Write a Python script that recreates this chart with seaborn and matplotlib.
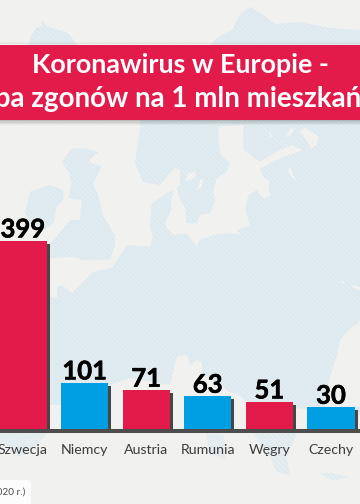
import numpy as np
import matplotlib
matplotlib.use("Agg")
import matplotlib.pyplot as plt
import matplotlib.patheffects as pe
from matplotlib.collections import LineCollection
from matplotlib.patches import Polygon, Rectangle, FancyBboxPatch
import seaborn as sns

# ---- data ----
categories = ["Szwecja", "Niemcy", "Austria", "Rumunia", "Węgry", "Czechy"]
deaths_per_million = [399, 101, 71, 63, 51, 30]
bar_colors = ["#e31b4b", "#009fe3", "#e31b4b", "#009fe3", "#e31b4b", "#009fe3"]
title_lines = ["Koronawirus w Europie -", "Liczba zgonów na 1 mln mieszkańców"]
source_text = "(2020 r.)"

# The source chart's bars are not proportional to their labels: this is its value axis.
axis_values = [0, 30, 51, 63, 71, 101, 399]
axis_heights = [0, 21.7, 27, 32.7, 38.7, 46, 188]

W, H = 360, 504
BASE_Y, TOP_Y = 429, 241
SLOT = 61.6
FIRST = 23
sns.set_theme(style="white")
plt.rcParams["font.family"] = ["Lato", "DejaVu Sans"]
fig = plt.figure(figsize=(W / 100, H / 100), dpi=100)

# ---- background map (decoration, pixel coordinates) ----
bg = fig.add_axes([0, 0, 1, 1], zorder=0)
bg.set_xlim(0, W); bg.set_ylim(H, 0); bg.axis("off")
SEA, LAND = "#f0f0ee", "#dde9ee"
bg.add_patch(Rectangle((0, 0), W, H, fc=SEA, ec="none"))

def zoom(x0, y0, pts):
    return [(x0 + x / 3, y0 + y / 3) for x, y in pts]

def poly(pts, color, **kw):
    bg.add_patch(Polygon(pts, closed=True, fc=color, ec="none", **kw))

# northern land above the banner
poly([(28, 46), (31, 36), (36, 28), (41, 27), (42, 20), (47, 26), (58, 30), (68, 33), (78, 46)], LAND)
poly([(210, 46), (217, 38), (232, 30), (240, 14), (250, 7), (262, 14), (275, 24), (300, 22), (330, 28), (360, 30), (360, 46)], LAND)
# main land mass
poly([(130, 120), (360, 120), (360, 432), (0, 432), (0, 300), (48, 240)], LAND)
# Atlantic and North Sea
poly([(0, 120), (140, 120), (140, 128), (135, 163), (143, 182), (160, 185), (175, 167), (180, 170), (180, 185),
      (170, 192), (152, 203), (150, 227), (153, 237), (150, 247), (127, 245), (124, 250), (118, 258), (112, 268),
      (93, 272), (83, 282), (72, 293), (62, 285), (57, 287), (57, 298), (48, 297), (0, 297)], SEA)
# Baltic
poly(zoom(180, 120, [(115, 20), (190, 15), (190, 90), (225, 115), (240, 125), (290, 95), (335, 75), (370, 92), (345, 98),
                     (300, 115), (240, 145), (250, 170), (270, 185), (265, 205), (272, 225), (255, 235), (240, 225),
                     (232, 210), (205, 225), (195, 270), (205, 300), (210, 318), (170, 330), (185, 345), (150, 340),
                     (100, 345), (60, 360), (50, 378), (40, 365), (20, 340), (-20, 345), (-40, 325), (-50, 290),
                     (-30, 250), (-20, 215), (-30, 190), (-10, 205), (0, 240), (15, 260), (20, 310), (50, 310),
                     (60, 285), (90, 280), (105, 240), (100, 210), (110, 175), (140, 155), (150, 130), (120, 100), (115, 60)]), SEA)
poly(zoom(180, 120, [(15, 185), (25, 160), (45, 155), (48, 170), (30, 180)]), SEA)
poly(zoom(180, 120, [(50, 212), (60, 180), (70, 175), (65, 200)]), SEA)
poly(zoom(180, 120, [(323, 150), (332, 142), (338, 160), (350, 185), (335, 172)]), SEA)
poly(zoom(180, 120, [(358, 35), (375, 22), (415, 50), (410, 75), (395, 85), (375, 55)]), SEA)
poly(zoom(180, 120, [(315, 50), (330, 25), (345, 25), (330, 50)]), SEA)
poly(zoom(180, 120, [(268, 50), (270, 30), (278, 55)]), SEA)
# British Isles
poly(zoom(0, 120, [(190, 120), (215, 85), (250, 85), (295, 95), (265, 125), (305, 140), (280, 190), (295, 230), (310, 290),
                   (345, 345), (345, 375), (330, 418), (250, 420), (215, 410), (150, 415), (144, 375), (170, 350),
                   (210, 300), (240, 300), (245, 240), (205, 235), (215, 190), (205, 155), (185, 125)]), LAND)
poly(zoom(0, 120, [(75, 280), (90, 215), (150, 195), (190, 210), (190, 240), (170, 260), (160, 310), (130, 330), (100, 325)]), LAND)
# Denmark
poly(zoom(0, 120, [(455, 250), (510, 215), (515, 265), (490, 320), (520, 345), (470, 360), (450, 320)]), LAND)
# Mediterranean
poly([(0, 432), (48, 405), (63, 405), (110, 385), (130, 378), (170, 385), (177, 356), (187, 355), (190, 365),
      (197, 360), (202, 363), (202, 373), (226, 390), (240, 396), (248, 403), (360, 415), (360, 504), (0, 504)], SEA)
poly(zoom(170, 250, [(20, 320), (50, 315), (60, 345), (80, 330), (95, 340), (95, 370), (170, 420), (80, 420), (40, 370)]), SEA)
# Black Sea
poly(zoom(170, 250, [(570, 205), (565, 220), (545, 230), (510, 270), (500, 320), (480, 380), (470, 420), (465, 470),
                     (570, 470)]), SEA)
poly(zoom(170, 250, [(505, 97), (520, 93), (528, 102)]), SEA)
poly(zoom(170, 250, [(542, 108), (555, 105), (570, 112), (570, 122)]), SEA)
# southern coasts below the bars
poly(zoom(0, 420, [(0, 40), (140, 40), (110, 75), (60, 110), (0, 70)]), LAND, alpha=0.7)
poly(zoom(180, 420, [(80, 40), (130, 45), (140, 120), (85, 100)]), LAND, alpha=0.7)
poly(zoom(180, 420, [(220, 40), (350, 40), (320, 110), (330, 165), (290, 155), (270, 110)]), LAND, alpha=0.8)
poly(zoom(180, 420, [(415, 160), (450, 158), (510, 170), (460, 182)]), LAND, alpha=0.8)
# diagonal stripes
d = np.arange(-H, W + H, 5.0)
segs = [[(x, 0), (x + H, H)] for x in d]
bg.add_collection(LineCollection(segs, colors="white", linewidths=1.0, alpha=0.2, zorder=1.5))

# ---- banner ----
for i, a in enumerate([0.22, 0.14, 0.08, 0.04]):
    bg.add_patch(Rectangle((0, 120 + i * 1.3), W, 1.3, fc="black", ec="none", alpha=a, zorder=3))
    bg.add_patch(Rectangle((0, 44.5 - i * 0.8), W, 0.8, fc="black", ec="none", alpha=a * 0.7, zorder=3))
bg.add_patch(Rectangle((0, 45), W, 75, fc="#e31b4b", ec="none", zorder=4))
bg.text(W / 2, 65, title_lines[0], color="white", fontsize=19.4, fontweight="bold", ha="center", va="center", zorder=5)
bg.text(W / 2, 99, title_lines[1], color="white", fontsize=20, fontweight="bold", ha="center", va="center", zorder=5)

# ---- source chip ----
bg.add_patch(FancyBboxPatch((-10, 480), 41, 40, boxstyle="round,pad=0,rounding_size=5", fc="white", ec="none", alpha=0.85, zorder=3))
bg.text(25, 492, source_text, color="#4a4a4a", fontsize=7.2, ha="right", va="center", zorder=5)

# ---- chart ----
ax = fig.add_axes([0, 1 - BASE_Y / H, 1, (BASE_Y - TOP_Y) / H], zorder=1)
ax.patch.set_visible(False)
sns.barplot(x=categories, y=deaths_per_million, hue=categories, palette=bar_colors, dodge=False,
            width=47 / SLOT, saturation=1, legend=False, edgecolor="none", linewidth=0, ax=ax)
ax.set_yscale("function", functions=(lambda v: np.interp(v, axis_values, axis_heights),
                                     lambda h: np.interp(h, axis_heights, axis_values)))
ax.set_ylim(0, max(deaths_per_million))
ax.set_xlim(-FIRST / SLOT, (W - FIRST) / SLOT)
ax.yaxis.set_major_locator(matplotlib.ticker.NullLocator())
ax.yaxis.set_minor_locator(matplotlib.ticker.NullLocator())
ax.set_xlabel(""); ax.set_ylabel("")
for s in ["top", "left", "right"]:
    ax.spines[s].set_visible(False)
ax.spines["bottom"].set_color("#4d4d4d")
ax.spines["bottom"].set_linewidth(2.9)
ax.spines["bottom"].set_position(("outward", 1.45))
ax.tick_params(axis="x", length=0, pad=9.5, labelsize=10.2, labelcolor="#3c3c3c")

for bar, val in zip(ax.patches, deaths_per_million):
    bar.set_path_effects([pe.withSimplePatchShadow(offset=(2.2, -2.2), shadow_rgbFace="#3d3d3d", alpha=0.95)])
    ax.annotate(str(val), (bar.get_x() + bar.get_width() / 2, val), xytext=(0, -0.3), textcoords="offset points",
                ha="center", va="bottom", fontsize=18.5, fontweight="bold", color="black", annotation_clip=False,
                path_effects=[pe.withStroke(linewidth=0.4, foreground="black")])

fig.savefig("out.png", dpi=100)
